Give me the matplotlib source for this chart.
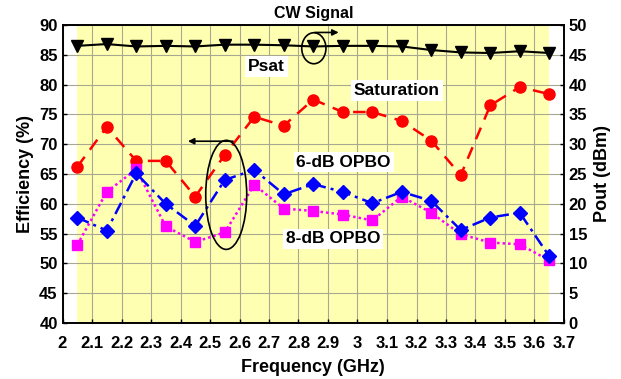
import matplotlib
matplotlib.use("Agg")
import matplotlib.pyplot as plt
from matplotlib.patches import Ellipse

plt.rcParams['font.family'] = ['Liberation Sans', 'DejaVu Sans']
plt.rcParams['font.weight'] = 'bold'

# Measured data
freq = [2.05, 2.15, 2.25, 2.35, 2.45, 2.55, 2.65, 2.75, 2.85,
        2.95, 3.05, 3.15, 3.25, 3.35, 3.45, 3.55, 3.65]
eff_sat = [66.2, 72.9, 67.2, 67.2, 61.2, 68.2, 74.6, 73.1, 77.5,
           75.4, 75.4, 73.9, 70.6, 64.8, 76.5, 79.6, 78.4]
eff_6db = [57.7, 55.5, 65.1, 60.0, 56.3, 64.0, 65.7, 61.6, 63.3,
           62.0, 60.1, 62.0, 60.5, 55.6, 57.7, 58.5, 51.2]
eff_8db = [53.1, 62.0, 65.8, 56.2, 53.6, 55.2, 63.2, 59.2, 58.8,
           58.2, 57.2, 61.2, 58.5, 54.9, 53.5, 53.2, 50.5]
psat = [46.5, 46.8, 46.4, 46.5, 46.4, 46.7, 46.7, 46.6, 46.4,
        46.5, 46.5, 46.4, 45.8, 45.4, 45.3, 45.6, 45.3]

xticks = [2.0, 2.1, 2.2, 2.3, 2.4, 2.5, 2.6, 2.7, 2.8, 2.9,
          3.0, 3.1, 3.2, 3.3, 3.4, 3.5, 3.6, 3.7]
xtick_labels = ['2', '2.1', '2.2', '2.3', '2.4', '2.5', '2.6', '2.7', '2.8',
                '2.9', '3', '3.1', '3.2', '3.3', '3.4', '3.5', '3.6', '3.7']
left_ticks = [40, 45, 50, 55, 60, 65, 70, 75, 80, 85, 90]
right_ticks = [0, 5, 10, 15, 20, 25, 30, 35, 40, 45, 50]

fig = plt.figure(figsize=(6.21, 3.79), dpi=100)
ax = fig.add_axes([62.5 / 621, 1 - 323 / 379, (564 - 62.5) / 621, (323 - 25) / 379])
ax2 = ax.twinx()

ax.set_xlim(2.0, 3.7)
ax.set_ylim(40, 90)
ax2.set_ylim(0, 50)

# measured band highlight
ax.axvspan(freq[0], freq[-1], color='#FFFFB2', zorder=0, lw=0)
ax.grid(True, color='#a8a890', lw=0.8)

ax.plot(freq, eff_sat, color='#FF0000', ls=(0, (5, 3.5)), lw=1.8,
        marker='o', ms=8, mfc='#FF0000', mec='#FF0000', zorder=3)
ax.plot(freq, eff_6db, color='#0000FF', ls=(0, (5, 2, 1.2, 2)), lw=1.8,
        marker='D', ms=7, mfc='#0000FF', mec='#0000FF', zorder=4)
ax.plot(freq, eff_8db, color='#FF00FF', ls=(0, (1, 1.2)), lw=1.8,
        marker='s', ms=6.5, mfc='#FF00FF', mec='#FF00FF', zorder=3.5)
ax2.plot(freq, psat, color='black', ls='-', lw=1.5,
         marker='v', ms=8.5, mfc='black', mec='black', zorder=3)

ax.set_xticks(xticks)
ax.set_xticklabels(xtick_labels)
ax.set_yticks(left_ticks)
ax2.set_yticks(right_ticks)

tick_fs = 12
for a in (ax, ax2):
    a.tick_params(axis='y', labelsize=tick_fs, direction='in', length=3,
                  width=1, pad=3.5)
    for sp in a.spines.values():
        sp.set_linewidth(1.2)
ax.tick_params(axis='x', labelsize=tick_fs, direction='in', length=3,
               width=1, pad=9)
for lab in ax.get_xticklabels() + ax.get_yticklabels() + ax2.get_yticklabels():
    lab.set_fontweight('bold')

ax.set_xlabel('Frequency (GHz)', fontsize=13, fontweight='bold', labelpad=6)
ax.set_ylabel('Efficiency (%)', fontsize=13, fontweight='bold', labelpad=4)
ax2.set_ylabel('Pout (dBm)', fontsize=13, fontweight='bold', labelpad=5)

box = dict(facecolor='white', edgecolor='none', pad=2)
ax.text(2.692, 83.0, 'Psat', fontsize=12.5, fontweight='bold',
        ha='center', va='center', bbox=box, zorder=5)
ax.text(3.133, 79.0, 'Saturation', fontsize=12.5, fontweight='bold',
        ha='center', va='center', bbox=box, zorder=5)
ax.text(2.953, 67.0, '6-dB OPBO', fontsize=12.5, fontweight='bold',
        ha='center', va='center', bbox=box, zorder=5)
ax.text(2.917, 54.1, '8-dB OPBO', fontsize=12.5, fontweight='bold',
        ha='center', va='center', bbox=box, zorder=5)
ax.text(2.852, 92.0, 'CW Signal', fontsize=11.5, fontweight='bold',
        ha='center', va='center', clip_on=False)

# ellipse + arrow pointing to the right axis (Psat)
ax.add_patch(Ellipse((2.852, 86.1), 0.082, 5.2, fill=False,
                     edgecolor='black', lw=1.2, zorder=6))
ax.annotate('', xy=(2.936, 88.75), xytext=(2.855, 88.75),
            arrowprops=dict(arrowstyle='-|>', color='black', lw=1.2,
                            mutation_scale=9, shrinkA=0, shrinkB=0),
            zorder=6)

# ellipse + arrow pointing to the left axis (efficiency)
ax.add_patch(Ellipse((2.555, 61.5), 0.139, 18.3, fill=False,
                     edgecolor='black', lw=1.2, zorder=6))
ax.annotate('', xy=(2.425, 70.5), xytext=(2.578, 70.5),
            arrowprops=dict(arrowstyle='-|>', color='black', lw=1.2,
                            mutation_scale=9, shrinkA=0, shrinkB=0),
            zorder=6)

fig.savefig('out.png', dpi=100)
